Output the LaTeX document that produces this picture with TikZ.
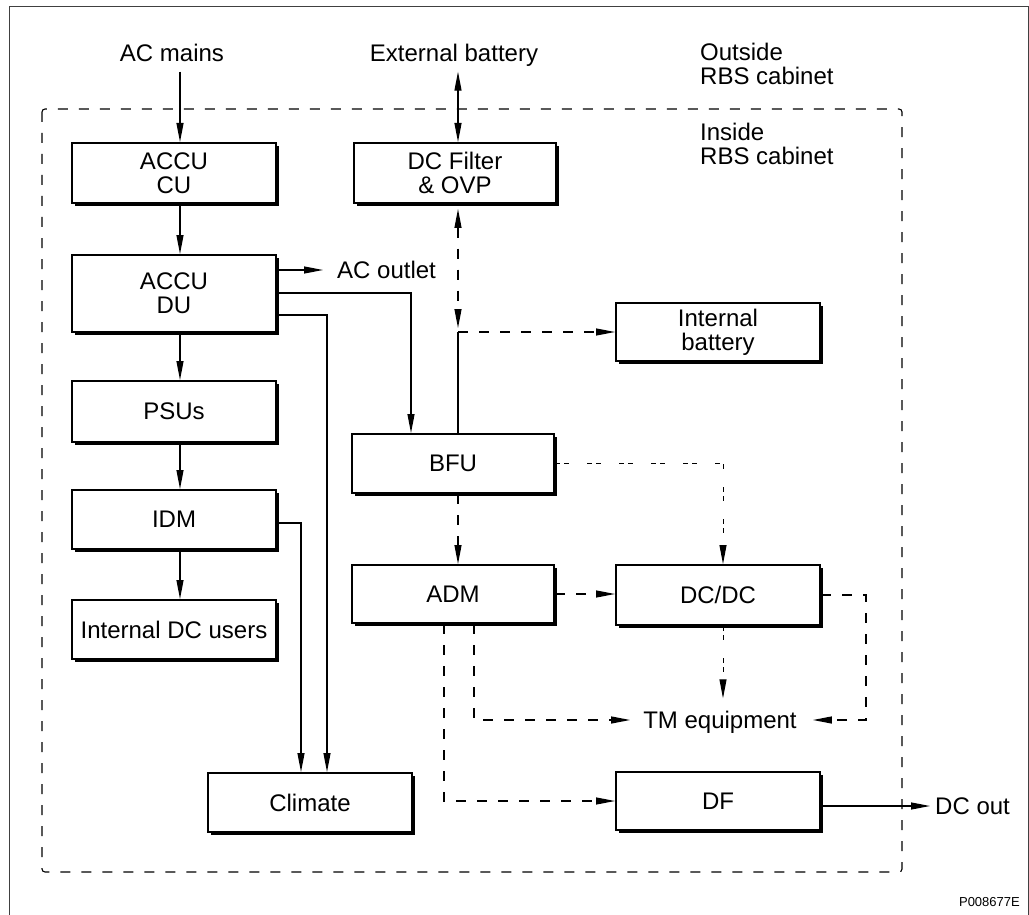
\documentclass[tikz,border=0pt]{standalone}
\usepackage{fontspec}
\setmainfont{Liberation Sans}
\usetikzlibrary{arrows.meta,shadows,calc}
\begin{document}
\begin{tikzpicture}[x=1pt,y=-1pt,
  font=\fontsize{24}{24}\selectfont,
  >={Triangle[length=19pt,width=7pt]},
  conn/.style={line width=1.2pt},
  dsh/.style={line width=1.2pt, dash pattern=on 10pt off 11pt},
  dd/.style={line width=1pt, dash pattern=on 5pt off 4pt on 5pt off 18pt},
  box/.style={draw, line width=2pt, fill=white, align=center, inner sep=0pt,
    minimum width=204pt,
    drop shadow={shadow xshift=3pt, shadow yshift=-3pt, fill=black, opacity=1}},
  lbl/.style={inner sep=0pt, text height=17pt, text depth=0pt},
  mlbl/.style={inner sep=0pt, align=left, anchor=north west},
]
\useasboundingbox (0,0) rectangle (1029,915);
% outer frame and cabinet boundary
\draw[line width=1pt, black!75] (9,915) -- (9,7) -- (1028,7) -- (1028,915);
\draw[line width=1.1pt, dash pattern=on 10pt off 11pt, rounded corners=3pt] (42,109) rectangle (902,872);

% boxes
\node[box, minimum height=60pt] (cu) at (174,173) {ACCU\\CU};
\node[box, minimum height=77pt] (du) at (174,293.5) {ACCU\\DU};
\node[box, minimum height=61pt] (psu) at (174,411.5) {PSUs};
\node[box, minimum height=59pt] (idm) at (174,519.5) {IDM};
\node[box, minimum height=59pt] (idc) at (174,629.5) {Internal DC users};
\node[box, minimum height=60pt, minimum width=202pt] (dcf) at (455,173) {DC Filter\\\& OVP};
\node[box, minimum height=58pt] (ib) at (718,332) {Internal\\battery};
\node[box, minimum height=59pt, minimum width=202pt] (bfu) at (453,463.5) {BFU};
\node[box, minimum height=58pt, minimum width=202pt] (adm) at (453,594) {ADM};
\node[box, minimum height=60pt] (dcdc) at (718,595) {DC/DC};
\node[box, minimum height=59pt] (climate) at (310,802.5) {Climate};
\node[box, minimum height=58pt] (df) at (718,801) {DF};

% labels
\node[lbl] (acm) at (172,53) {AC mains};
\node[lbl] (ext) at (454,53) {External battery};
\node[mlbl] (outl) at (700,43) {Outside\\RBS cabinet};
\node[mlbl] (inl) at (700,123) {Inside\\RBS cabinet};
\node[lbl, anchor=west] (aco) at (337,270) {AC outlet};
\node[lbl] (tm) at (720,720) {TM equipment};
\node[lbl, anchor=west] (dco) at (935,806) {DC out};
\node[inner sep=0pt, anchor=east, font=\fontsize{13}{13}\selectfont] (pid) at (1020,902) {P008677E};

% helper coordinates
\coordinate (xA) at (180,0);
\coordinate (J) at (458,332);
\coordinate (p1) at (411,293);
\coordinate (p2) at (327,315);
\coordinate (p3) at (301,523);
\coordinate (p4) at (723,463);
\coordinate (p5) at (474,718);
\coordinate (p6) at (444,803);
\coordinate (p7) at (866,650);

% connectors
\draw[conn,->,shorten <=10pt] (acm.south -| xA) -- (cu.north -| xA);
\draw[conn,<->,shorten <=10pt] (ext.south -| J) -- (dcf.north -| J);
\draw[conn,->] (cu.south -| xA) -- (du.north -| xA);
\draw[conn,->,shorten >=14pt] (du.east |- aco.west) -- (aco.west);
\draw[conn,->] (du.east |- p1) -| (bfu.north -| p1);
\draw[conn,->] (du.east |- p2) -| (climate.north -| p2);
\draw[conn,->] (du.south -| xA) -- (psu.north -| xA);
\draw[conn,->] (psu.south -| xA) -- (idm.north -| xA);
\draw[conn,->] (idm.south -| xA) -- (idc.north -| xA);
\draw[conn,->] (idm.east |- p3) -| (climate.north -| p3);
\draw[dsh,<->,shorten <=5pt,shorten >=4pt] (dcf.south -| J) -- (J);
\draw[dsh,->] (J) -- (ib.west |- J);
\draw[conn] (bfu.north -| J) -- (J);
\draw[dsh,->] (bfu.south -| J) -- (adm.north -| J);
\draw[dd,->] (bfu.east |- p4) -| (dcdc.north -| p4);
\draw[dsh,->] (adm.east) -- (dcdc.west |- adm.east);
\draw[dsh,->,shorten >=13pt] (adm.south -| p5) |- (tm.west);
\draw[dsh,->] (adm.south -| p6) |- (df.west);
\draw[dd,->,shorten >=13pt] (dcdc.south -| p4) -- (tm.north -| p4);
\draw[dsh,->,shorten >=16pt] (dcdc.east) -| (p7) |- (tm.east);
\draw[conn,->,shorten >=5pt] (df.east |- dco.west) -- (dco.west);
\end{tikzpicture}
\end{document}
